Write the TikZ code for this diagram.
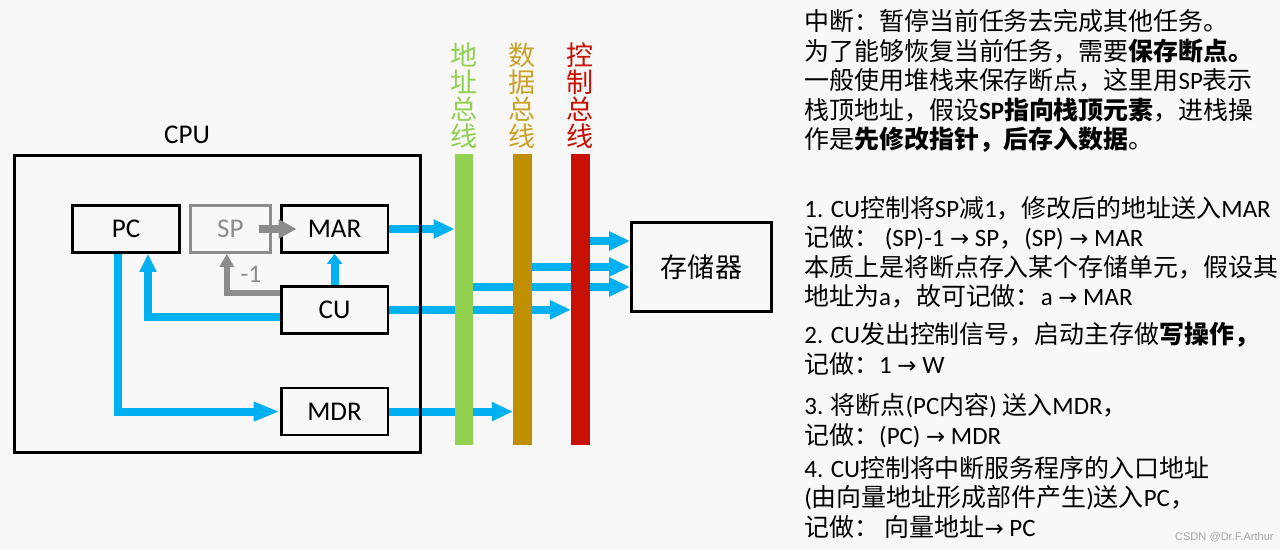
\documentclass[tikz,border=0pt]{standalone}
\usepackage{fontspec}
\setmainfont{Carlito}
\setsansfont{Liberation Sans}
\newfontfamily\cjk{Noto Sans CJK SC}
\newfontfamily\sym{DejaVu Sans}
\usetikzlibrary{arrows.meta,positioning,backgrounds}
\definecolor{arrowblue}{HTML}{00B0F0}
\definecolor{addrgreen}{HTML}{92D050}
\definecolor{datagold}{HTML}{BF8F00}
\definecolor{datalabel}{HTML}{C9A227}
\definecolor{ctrlred}{HTML}{C81000}
\definecolor{spgray}{HTML}{8C8C8C}
\definecolor{pagebg}{HTML}{F8F8F8}
\newcommand{\en}[1]{{\rmfamily #1}}
\newcommand{\arr}{{\sym\fontsize{13pt}{13pt}\selectfont →}}

\tikzset{
  reg/.style={draw, line width=1.6pt, minimum width=2.14cm, minimum height=0.94cm, inner sep=0pt, font=\fontsize{15.4pt}{18pt}\selectfont},
  bus/.style={minimum width=0.37cm, minimum height=5.82cm, inner sep=0pt},
  buslabel/.style={align=center, inner sep=0pt, font=\cjk\fontsize{15.4pt}{15.4pt}\selectfont},
  flow/.style={-{Triangle[length=0.42cm,width=0.36cm]}, line width=4.5pt, draw=arrowblue},
  stackarrow/.style={-{Triangle[length=0.36cm,width=0.36cm]}, line width=4pt, draw=spgray},
  note/.style={anchor=north west, align=left, inner sep=0pt, font=\cjk\fontsize{14.2pt}{16.8pt}\selectfont}
}

\begin{document}
\begin{tikzpicture}[x=0.02cm, y=-0.02cm]
  \useasboundingbox (0,0) rectangle (1280,550);

  % cpu
  \node[draw, line width=1.4pt, minimum width=8.13cm, minimum height=5.95cm, inner sep=0pt] (cpu) at (217.5,304) {};
  \node[font=\fontsize{15.4pt}{18pt}\selectfont] (cpulbl) at (187,135) {CPU};

  \node[reg] (pc) at (126,229) {PC};
  \node[reg, draw=spgray, text=spgray, minimum width=1.6cm, right=0.16cm of pc] (sp) {SP};
  \node[reg, right=0.16cm of sp] (mar) {MAR};
  \node[reg, below=0.62cm of mar] (cu) {CU};
  \node[reg, below=1.04cm of cu] (mdr) {MDR};

  % buses
  \node[bus, fill=addrgreen, minimum width=0.36cm] (addr) at (464,299.5) {};
  \node[bus, fill=datagold] (data) at (522.5,299.5) {};
  \node[bus, fill=ctrlred] (ctrl) at (580.5,299.5) {};
  \node[buslabel, text=addrgreen, above=0.1cm of addr] (addrlbl) {地\\址\\总\\线};
  \node[buslabel, text=datalabel, above=0.1cm of data] (datalbl) {数\\据\\总\\线};
  \node[buslabel, text=ctrlred, above=0.1cm of ctrl] (ctrllbl) {控\\制\\总\\线};

  \node[reg, minimum width=2.8cm, minimum height=1.78cm, font=\cjk\fontsize{15.4pt}{18pt}\selectfont] (mem) at (701.5,267) {存储器};

  \coordinate (m1) at ([yshift=0.52cm]mem.west);
  \coordinate (m3) at ([yshift=-0.4cm]mem.west);
  \coordinate (c1) at ([yshift=-0.14cm]cu.west);
  \coordinate (c2) at ([yshift=0.34cm]cu.west);
  \coordinate (p1) at ([xshift=0.44cm]pc.south);
  \coordinate (p2) at ([xshift=-0.16cm]pc.south);
  \coordinate (s1) at ([xshift=-0.07cm]sp.south);

  \begin{scope}[on background layer]
    \fill[pagebg] (0,0) rectangle (1280,550);
    \draw[flow] (mar.east) -- (mar.east -| addr.west);
    \draw[flow] (cu.east) -- (cu.east -| ctrl.west);
    \draw[flow] (mdr.east) -- (mdr.east -| data.west);
    \draw[flow] (m1 -| ctrl.east) -- (m1);
    \draw[flow] (mem.west -| data.east) -- (mem.west);
    \draw[flow] (m3 -| addr.east) -- (m3);
    \draw[flow, -{Triangle[length=0.2cm,width=0.3cm]}] (cu.north) -- (mar.south);
    \draw[flow, -{Triangle[length=0.36cm,width=0.32cm]}] (c1) -| (p1);
    \draw[flow, -{Triangle[length=0.52cm,width=0.36cm]}] (p2) |- (mdr.west);
  \end{scope}

  % stack pointer
  \draw[stackarrow] ([xshift=-0.26cm]sp.east) -- ([xshift=0.34cm]mar.west);
  \draw[stackarrow, -{Triangle[length=0.26cm,width=0.28cm]}, line width=3.2pt] (c2) -| (s1);
  \node[text=spgray, font=\fontsize{14.5pt}{15pt}\selectfont] (dec) at (251,274) {-1};

  % notes
  \node[note] (t1) at (804,9) {中断：暂停当前任务去完成其他任务。\\
    为了能够恢复当前任务，需要\textbf{保存断点。}\\
    一般使用堆栈来保存断点，这里用\en{SP}表示\\
    栈顶地址，假设\textbf{\en{SP}指向栈顶元素}，进栈操\\
    作是\textbf{先修改指针，后存入数据}。};
  \node[note] (t2) at (804,196) {\en{1. CU}控制将\en{SP}减\en{1}，修改后的地址送入\en{MAR}\\
    记做： \en{(SP)-1 \arr{} SP}，\en{(SP) \arr{} MAR}\\
    本质上是将断点存入某个存储单元，假设其\\
    地址为\en{a}，故可记做：\en{a \arr{} MAR}};
  \node[note] (t3) at (804,322) {\en{2. CU}发出控制信号，启动主存做\textbf{写操作，}\\
    记做：\en{1 \arr{} W}};
  \node[note] (t4) at (804,393) {\en{3. }将断点\en{(PC}内容\en{) }送入\en{MDR}，\\
    记做：\en{(PC) \arr{} MDR}};
  \node[note] (t5) at (804,456) {\en{4. CU}控制将中断服务程序的入口地址\\
    \en{(}由向量地址形成部件产生\en{)}送入\en{PC}，\\
    记做： 向量地址\en{\arr{} PC}};

  \node[anchor=east, text=gray!70, inner sep=0pt, font=\sffamily\fontsize{6.3pt}{7pt}\selectfont] (mark) at (1274,537) {CSDN @Dr.F.Arthur};
\end{tikzpicture}
\end{document}
